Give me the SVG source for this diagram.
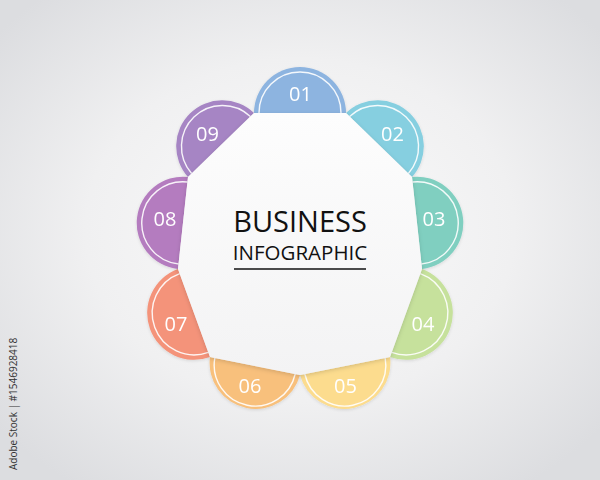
<svg xmlns="http://www.w3.org/2000/svg" width="600" height="480" viewBox="0 0 600 480">
  <defs>
    <radialGradient id="bg" cx="50%" cy="48%" r="65%">
      <stop offset="0" stop-color="#fbfbfb"/>
      <stop offset="0.55" stop-color="#f0f0f1"/>
      <stop offset="1" stop-color="#dcdde0"/>
    </radialGradient>
    <linearGradient id="hub" x1="0" y1="0" x2="0" y2="1">
      <stop offset="0" stop-color="#fdfdfd"/>
      <stop offset="1" stop-color="#f3f3f4"/>
    </linearGradient>
    <filter id="sh" x="-20%" y="-20%" width="140%" height="140%">
      <feDropShadow dx="0" dy="1.5" stdDeviation="2" flood-color="#000" flood-opacity="0.15"/>
    </filter>
    <filter id="sh2" x="-30%" y="-30%" width="160%" height="160%">
      <feDropShadow dx="0" dy="1" stdDeviation="1.5" flood-color="#000" flood-opacity="0.12"/>
    </filter>
  </defs>
  <style>
    .tab { filter: url(#sh2); }
    .ring { fill: none; stroke: #ffffff; stroke-width: 1.4; stroke-opacity: 0.9; }
    .num { font-family: "Open Sans", "Liberation Sans", sans-serif; font-size: 20px; fill: #ffffff; text-anchor: middle; }
    .title { font-family: "Open Sans", "Liberation Sans", sans-serif; fill: #111111; text-anchor: middle; }
  </style>

  <rect width="600" height="480" fill="url(#bg)"/>

  <g id="tab01" class="tab">
    <path d="M254,113 A46,46 0 0 1 346,113 Z" fill="#8db4e0"/>
    <path class="ring" d="M259,113 A41,41 0 0 1 341,113"/>
    <text class="num" x="300.5" y="101">01</text>
  </g>
  <g id="tab02" class="tab">
    <path d="M346,113 A46,46 0 0 1 412,177 Z" fill="#86cfe0"/>
    <path class="ring" d="M349.6,116.5 A41,41 0 0 1 408.4,173.5"/>
    <text class="num" x="392.5" y="141">02</text>
  </g>
  <g id="tab03" class="tab">
    <path d="M412,177 A46,46 0 0 1 422,269 Z" fill="#80cfc0"/>
    <path class="ring" d="M412.6,182 A41,41 0 0 1 421.4,264"/>
    <text class="num" x="434" y="226">03</text>
  </g>
  <g id="tab04" class="tab">
    <path d="M422,269 A46,46 0 0 1 390,357 Z" fill="#c6e19c"/>
    <path class="ring" d="M420.3,273.7 A41,41 0 0 1 391.7,352.3"/>
    <text class="num" x="423" y="331">04</text>
  </g>
  <g id="tab05" class="tab">
    <path d="M390,357 A46,46 0 0 1 300,375 Z" fill="#fcdc8e"/>
    <path class="ring" d="M385.2,358 A41,41 0 0 1 304.8,374"/>
    <text class="num" x="345.5" y="393">05</text>
  </g>
  <g id="tab06" class="tab">
    <path d="M300,375 A46,46 0 0 1 210,357 Z" fill="#f8c07c"/>
    <path class="ring" d="M295.2,374 A41,41 0 0 1 214.8,358"/>
    <text class="num" x="250" y="393">06</text>
  </g>
  <g id="tab07" class="tab">
    <path d="M210,357 A46,46 0 0 1 178,269 Z" fill="#f4937a"/>
    <path class="ring" d="M208.3,352.3 A41,41 0 0 1 179.7,273.7"/>
    <text class="num" x="176" y="331">07</text>
  </g>
  <g id="tab08" class="tab">
    <path d="M178,269 A46,46 0 0 1 188,177 Z" fill="#b47bbf"/>
    <path class="ring" d="M178.6,264 A41,41 0 0 1 187.4,182"/>
    <text class="num" x="165" y="226">08</text>
  </g>
  <g id="tab09" class="tab">
    <path d="M188,177 A46,46 0 0 1 254,113 Z" fill="#a685c4"/>
    <path class="ring" d="M191.6,173.5 A41,41 0 0 1 250.4,116.5"/>
    <text class="num" x="207.5" y="141">09</text>
  </g>

  <g id="hub">
    <polygon points="254,113 346,113 412,177 422,269 390,357 300,375 210,357 178,269 188,177" fill="url(#hub)" filter="url(#sh)"/>
    <text class="title" x="300" y="232" font-size="29">BUSINESS</text>
    <text class="title" x="300" y="260" font-size="20.5">INFOGRAPHIC</text>
    <line x1="234" y1="269" x2="366" y2="269" stroke="#111111" stroke-width="1.6"/>
  </g>

  <text x="17" y="470" transform="rotate(-90 17 470)" font-family="'Open Sans', 'Liberation Sans', sans-serif" font-size="10" fill="#333333">Adobe Stock | #1546928418</text>
</svg>
